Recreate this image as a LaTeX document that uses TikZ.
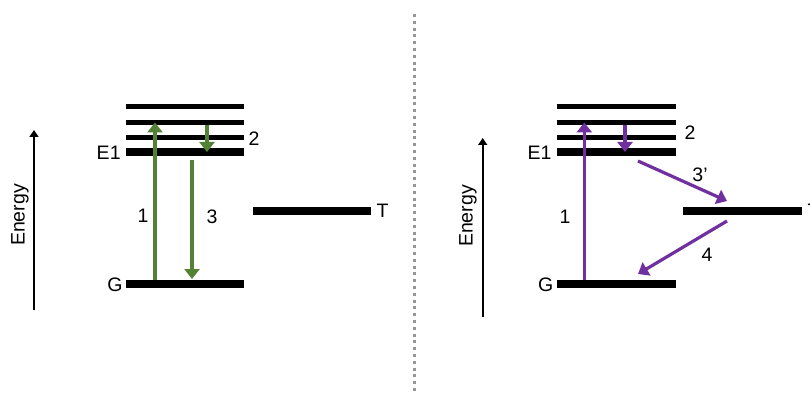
\documentclass[tikz,border=0pt]{standalone}
\usepackage{fontspec}
\setmainfont{Liberation Sans}
\usepackage{xcolor}
\usepackage{tikz}
\usetikzlibrary{arrows.meta, positioning, calc}
\definecolor{fluogreen}{RGB}{84, 130, 53}
\definecolor{phospurple}{RGB}{112, 48, 160}
\definecolor{divgray}{RGB}{150, 150, 150}

\begin{document}
\begin{tikzpicture}[x=1pt, y=-1pt, font=\fontsize{19.5}{23}\selectfont,
    thinlvl/.style={fill=black, inner sep=0pt, minimum width=118pt, minimum height=5pt},
    thicklvl/.style={fill=black, inner sep=0pt, minimum width=118pt, minimum height=8pt},
    lvllabel/.style={inner sep=0pt},
    trans/.style={line width=3.2pt, -{Triangle[width=15pt, length=10pt]}},
    energyaxis/.style={line width=1.6pt, -{Triangle[width=9pt, length=7pt]}}]
    \clip (0,0) rectangle (810,398);
    \fill[white] (0,0) rectangle (810,398);

    % left panel: fluorescence
    \draw[energyaxis] (34,310) coordinate (axL0) -- (34,130) coordinate (axL1);
    \node[rotate=90] (enL) at (20,215) {Energy};
    \node[thinlvl] (vL3) at (185,106.7) {};
    \node[thinlvl] (vL2) at (185,122.7) {};
    \node[thinlvl] (vL1) at (185,137.7) {};
    \node[thicklvl] (E1L) at (185,152.3) {};
    \node[thicklvl] (GL) at (185,284.3) {};
    \node[thicklvl] (TL) at (312.2,211) {};
    \node[lvllabel, left=5pt of E1L] (E1Ltxt) {E1};
    \node[lvllabel, left=3pt of GL] (GLtxt) {G};
    \node[lvllabel, right=5pt of TL] (TLtxt) {T};
    \coordinate (aL1s) at (155,280);
    \coordinate (aL1e) at (155,122.5);
    \coordinate (aL2s) at (207,125);
    \coordinate (aL2e) at (207,152);
    \coordinate (aL3s) at (192,160);
    \coordinate (aL3e) at (192,279);
    \draw[trans, fluogreen] (aL1s) -- (aL1e);
    \draw[trans, fluogreen] (aL2s) -- (aL2e);
    \draw[trans, fluogreen] (aL3s) -- (aL3e);
    \node (nL1) at (143,216) {1};
    \node (nL2) at (254,139) {2};
    \node (nL3) at (212,217) {3};

    % divider
    \draw[divgray, line width=3pt, dash pattern=on 3pt off 3.8pt] (414,14) coordinate (dv0) -- (414,394) coordinate (dv1);

    % right panel: phosphorescence
    \draw[energyaxis] (482.7,317) coordinate (axR0) -- (482.7,138) coordinate (axR1);
    \node[rotate=90] (enR) at (468,216) {Energy};
    \node[thinlvl, minimum width=119pt] (vR3) at (616.3,106.7) {};
    \node[thinlvl, minimum width=119pt] (vR2) at (616.3,122.7) {};
    \node[thinlvl, minimum width=119pt] (vR1) at (616.3,137.7) {};
    \node[thicklvl, minimum width=119pt] (E1R) at (616.3,152.3) {};
    \node[thicklvl, minimum width=119pt] (GR) at (616.3,284.3) {};
    \node[thicklvl, minimum width=119pt] (TR) at (742.8,211) {};
    \node[lvllabel, left=5pt of E1R] (E1Rtxt) {E1};
    \node[lvllabel, left=3pt of GR] (GRtxt) {G};
    \node[lvllabel, right=5pt of TR] (TRtxt) {T};
    \coordinate (aR1s) at (584.3,280);
    \coordinate (aR1e) at (584.3,122.5);
    \coordinate (aR2s) at (625,125);
    \coordinate (aR2e) at (625,152);
    \coordinate (aR3s) at (638,161);
    \coordinate (aR3e) at (727,201);
    \coordinate (aR4s) at (727,221);
    \coordinate (aR4e) at (638,274);
    \draw[trans, phospurple] (aR1s) -- (aR1e);
    \draw[trans, phospurple] (aR2s) -- (aR2e);
    \draw[trans, phospurple] (aR3s) -- (aR3e);
    \draw[trans, phospurple] (aR4s) -- (aR4e);
    \node (nR1) at (565,217) {1};
    \node (nR2) at (690,133) {2};
    \node (nR3) at (700,175) {3’};
    \node (nR4) at (707,255) {4};
\end{tikzpicture}
\end{document}
